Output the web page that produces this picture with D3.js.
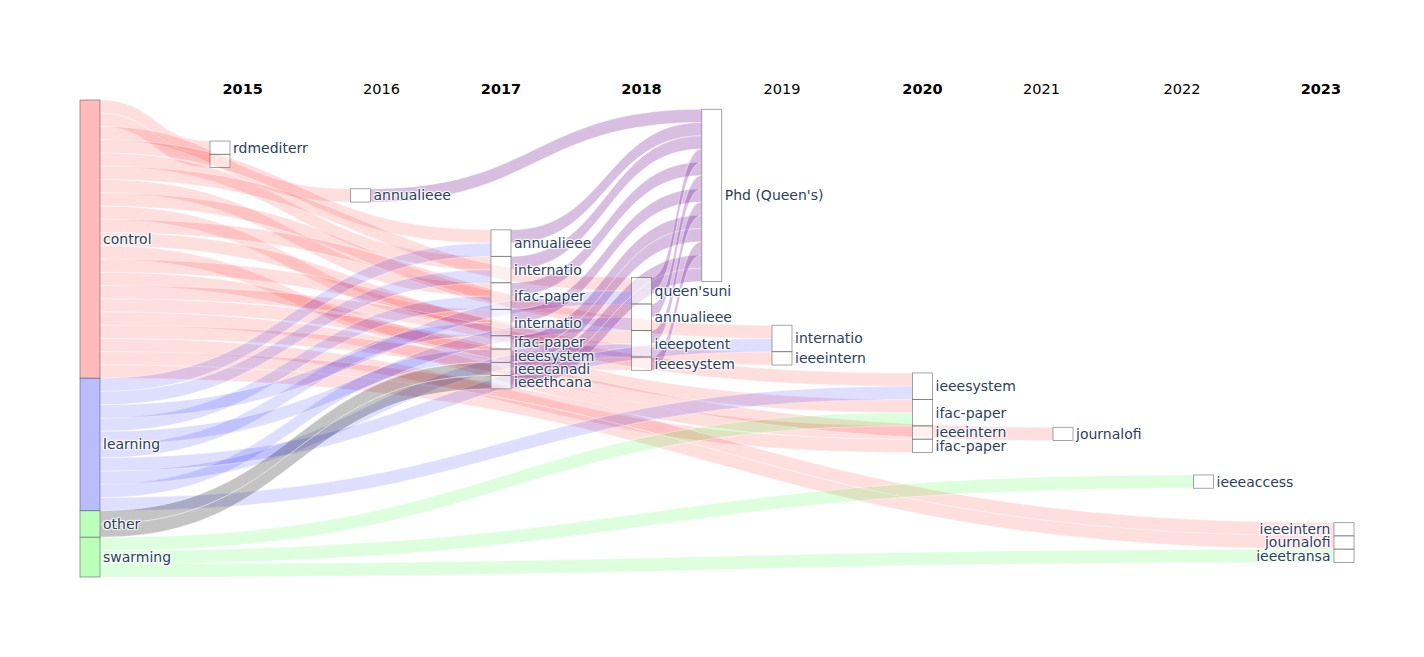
<!DOCTYPE html>
<html>
<head>
<meta charset="utf-8">
<script src="https://cdn.jsdelivr.net/npm/d3@7"></script>
<style>
  body { margin: 0; background: #fff; }
  svg { display: block; background: #fff; }
  .nodeLabel {
    font-family: "DejaVu Sans", Verdana, sans-serif;
    font-size: 14px;
    fill: #2a3f5f;
    text-shadow: 1px 1px 1px #fff, 1px -1px 1px #fff, -1px 1px 1px #fff, -1px -1px 1px #fff;
  }
  .yearLabel {
    font-family: "DejaVu Sans", Verdana, sans-serif;
    font-size: 14.5px;
    fill: #000;
  }
</style>
</head>
<body>
<svg id="chart" width="1424" height="657"></svg>
<script>
// ---------------- DATA ----------------
const topicLabels = ["control", "learning", "other", "swarming"];

const venueLabels = [
  "rdmediterr", "",
  "annualieee",
  "annualieee", "internatio", "ifac-paper", "internatio", "ifac-paper", "ieeesystem", "ieeecanadi", "ieeethcana",
  "queen'suni", "annualieee", "ieeepotent", "ieeesystem",
  "Phd (Queen's)",
  "internatio", "ieeeintern",
  "ieeesystem", "ifac-paper", "ieeeintern", "ifac-paper",
  "journalofi",
  "ieeeaccess",
  "ieeeintern", "journalofi", "ieeetransa"
];
const venueYear = [
  2015, 2015,
  2016,
  2017, 2017, 2017, 2017, 2017, 2017, 2017, 2017,
  2018, 2018, 2018, 2018,
  2018.5,
  2019, 2019,
  2020, 2020, 2020, 2020,
  2021,
  2022,
  2023, 2023, 2023
];
// plotly-style node.y hint (0..1) for each venue node
const venueRow = [
  0.1, 0.1,
  0.2,
  0.3, 0.3, 0.3, 0.3, 0.3, 0.3, 0.3, 0.3,
  0.4, 0.4, 0.4, 0.4,
  0.2,
  0.5, 0.5,
  0.6, 0.6, 0.6, 0.6,
  0.7,
  0.8,
  0.9, 0.9, 0.9
];

const yearTicks = [2015, 2016, 2017, 2018, 2019, 2020, 2021, 2022, 2023];
const yearBold  = [true, false, true, true, false, true, false, false, true];

// links: indices into [topics..., venues...]
const linkSource = [
  0,0,0,0,0,0,0,0,0,0,0,0,0,0,0,0,0,0,0,0,0,
  1,1,1,1,1,1,1,1,1,1,
  2,2,
  3,3,3,
  6,7,8,9,10,11,12,13,14,15,16,17,18
];
const linkTarget = [
  4,5,6,7,8,9,10,11,15,16,17,18,20,21,22,23,24,25,26,28,29,
  7,8,9,10,12,15,16,17,20,22,
  13,14,
  23,27,30,
  19,19,19,19,19,19,19,19,19,19,19,19,19
];
const linkValue = linkSource.map(() => 1);

// ---------------- STYLE ----------------
const W = 1424, H = 657;
const plot = { left: 80, right: 1354, top: 100, bottom: 577 };
const nodeWidth = 20;
const topicNodeColor = { control: "#ffbbbb", learning: "#bbbbff", other: "#bbffbb", swarming: "#bbffbb" };
const topicLinkColor = {
  control: "rgba(255,0,0,0.13)",
  learning: "rgba(0,0,255,0.13)",
  other: "rgba(0,0,0,0.23)",
  swarming: "rgba(0,255,0,0.13)"
};
const thesisLinkColor = "rgba(100,0,140,0.25)";
const venueFill = "rgba(255,255,255,0.55)";

// ---------------- LAYOUT ----------------
const svg = d3.select("#chart");
const xYear = d3.scaleLinear().domain([2015, 2023]).range([plot.left + 140, plot.right - nodeWidth / 2]);
const yFrac = d3.scaleLinear().domain([0, 1]).range([plot.top, plot.bottom]);

const nodes = [];
topicLabels.forEach((l, i) => nodes.push({ index: i, label: l, topic: true, cx: plot.left + nodeWidth / 2, row: 0, col: "topic" }));
venueLabels.forEach((l, i) => nodes.push({ index: topicLabels.length + i, label: l, topic: false, year: venueYear[i], cx: xYear(venueYear[i]), row: venueRow[i], col: String(venueYear[i]) }));
nodes.forEach(n => { n.sourceLinks = []; n.targetLinks = []; });

const links = linkSource.map((s, i) => {
  const l = { index: i, source: nodes[s], target: nodes[linkTarget[i]], value: linkValue[i] };
  l.source.sourceLinks.push(l);
  l.target.targetLinks.push(l);
  l.color = l.target.label === "Phd (Queen's)" ? thesisLinkColor : topicLinkColor[l.source.label];
  return l;
});

nodes.forEach(n => {
  n.value = Math.max(d3.sum(n.sourceLinks, l => l.value), d3.sum(n.targetLinks, l => l.value));
});

const columns = d3.group(nodes, n => n.col);
const maxColumnValue = d3.max(Array.from(columns.values()), c => d3.sum(c, n => n.value));
const ky = (plot.bottom - plot.top) / maxColumnValue;

columns.forEach(col => {
  col.sort((a, b) => a.row - b.row || a.index - b.index);
  let prev = null;
  col.forEach(n => {
    const h = n.value * ky;
    if (!prev) {
      n.y0 = Math.max(plot.top, yFrac(n.row) - h / 2);
    } else {
      n.y0 = Math.max(prev.y1, yFrac(n.row) - h / 2);
    }
    n.y1 = n.y0 + h;
    n.x0 = n.cx - nodeWidth / 2;
    n.x1 = n.cx + nodeWidth / 2;
    prev = n;
  });
});

nodes.forEach(n => {
  n.sourceLinks.sort((a, b) => a.target.y0 - b.target.y0 || a.index - b.index);
  n.targetLinks.sort((a, b) => a.source.y0 - b.source.y0 || a.index - b.index);
  let y = n.y0;
  n.sourceLinks.forEach(l => { l.sy0 = y; y += l.value * ky; l.sy1 = y; });
  y = n.y0;
  n.targetLinks.forEach(l => { l.ty0 = y; y += l.value * ky; l.ty1 = y; });
});

function linkPath(l) {
  const x0 = l.source.x1, x1 = l.target.x0;
  const xi = d3.interpolateNumber(x0, x1);
  const xa = xi(0.5), xb = xi(0.5);
  return `M${x0},${l.sy0}C${xa},${l.sy0} ${xb},${l.ty0} ${x1},${l.ty0}` +
         `L${x1},${l.ty1}C${xb},${l.ty1} ${xa},${l.sy1} ${x0},${l.sy1}Z`;
}

// ---------------- DRAW ----------------
svg.append("g").selectAll("path").data(links).join("path")
  .attr("d", linkPath)
  .attr("fill", l => l.color)
  .attr("stroke", "rgba(255,255,255,0.8)")
  .attr("stroke-width", 0.5);

svg.append("g").selectAll("rect").data(nodes).join("rect")
  .attr("x", n => n.x0)
  .attr("y", n => n.y0)
  .attr("width", nodeWidth)
  .attr("height", n => n.y1 - n.y0)
  .attr("fill", n => n.topic ? topicNodeColor[n.label] : venueFill)
  .attr("stroke", "#444")
  .attr("stroke-opacity", 0.6)
  .attr("stroke-width", 0.8);

const lastYear = d3.max(venueYear);
svg.append("g").selectAll("text").data(nodes.filter(n => n.label)).join("text")
  .attr("class", "nodeLabel")
  .attr("x", n => (n.year === lastYear) ? n.x0 - 3.5 : n.x1 + 3)
  .attr("y", n => (n.y0 + n.y1) / 2)
  .attr("dy", "0.35em")
  .attr("text-anchor", n => (n.year === lastYear) ? "end" : "start")
  .text(n => n.label);

// year annotations (plotly 'auto' anchor: left / center / right)
const yearFrac = d3.scaleLinear().domain([2014, 2023]).range([0, 1]);
svg.append("g").selectAll("text").data(yearTicks).join("text")
  .attr("class", "yearLabel")
  .attr("font-weight", (d, i) => yearBold[i] ? "bold" : "normal")
  .attr("y", 94)
  .attr("x", d => {
    const f = yearFrac(d);
    if (f < 1 / 3 - 1e-9) return xYear(d) + 2.5;
    if (f > 2 / 3 + 1e-9) return xYear(d) - 3;
    return xYear(d);
  })
  .attr("text-anchor", d => {
    const f = yearFrac(d);
    if (f < 1 / 3 - 1e-9) return "start";
    if (f > 2 / 3 + 1e-9) return "end";
    return "middle";
  })
  .text(d => d);
</script>
</body>
</html>
